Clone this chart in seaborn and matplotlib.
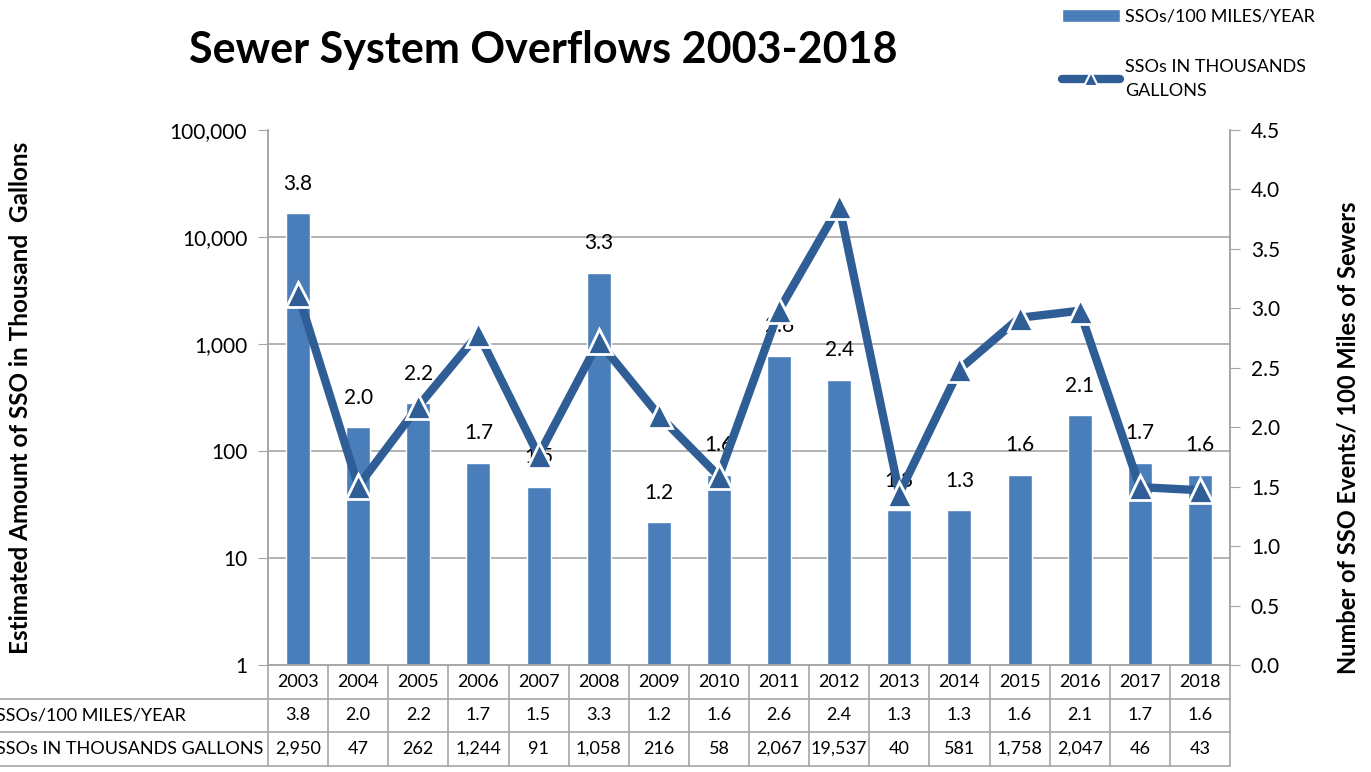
import numpy as np
import pandas as pd
import seaborn as sns
import matplotlib.pyplot as plt
from matplotlib.ticker import FuncFormatter
from matplotlib.lines import Line2D
from matplotlib.patches import Patch
from matplotlib.transforms import blended_transform_factory

# data
years = ['2003', '2004', '2005', '2006', '2007', '2008', '2009', '2010',
         '2011', '2012', '2013', '2014', '2015', '2016', '2017', '2018']
ssos_per_100mi = [3.8, 2.0, 2.2, 1.7, 1.5, 3.3, 1.2, 1.6, 2.6, 2.4, 1.3, 1.3, 1.6, 2.1, 1.7, 1.6]
ssos_gallons_k = [2950, 47, 262, 1244, 91, 1058, 216, 58, 2067, 19537, 40, 581, 1758, 2047, 46, 43]
bar_name = 'SSOs/100 MILES/YEAR'
line_name = 'SSOs IN THOUSANDS GALLONS'

df = pd.DataFrame({'year': years, 'rate': ssos_per_100mi, 'gallons': ssos_gallons_k})

bar_color = '#4a7ebb'
line_color = '#2f5e97'
grid_color = '#a6a6a6'

sns.set_style('white')
plt.rcParams['font.family'] = ['Lato', 'DejaVu Sans']
plt.rcParams['text.color'] = 'black'
plt.rcParams['axes.labelcolor'] = 'black'
plt.rcParams['ytick.labelcolor'] = 'black'

W, H = 1371, 772
fig = plt.figure(figsize=(W / 100, H / 100), dpi=100)
ax = fig.add_axes([268 / W, 1 - 665 / H, 962 / W, 535 / H])

# bars on the linear (right) axis
sns.barplot(data=df, x='year', y='rate', color=bar_color, width=0.4, saturation=1,
            edgecolor='white', linewidth=1, ax=ax, zorder=2)
ax.set_xlim(-0.5, len(years) - 0.5)
ax.set_ylim(0, 4.5)
ax.set_xticks([])
ax.set_xlabel('')
ax.bar_label(ax.containers[0], labels=[f'{v:.1f}' for v in ssos_per_100mi],
             padding=14, fontsize=15, color='black')

# line on the log (left) axis
ax2 = ax.twinx()
ax2.set_yscale('log')
sns.lineplot(x=df.index, y=df['gallons'], ax=ax2, color=line_color, lw=6,
             marker='^', markersize=18, markeredgecolor='white', markeredgewidth=2,
             zorder=3)
ax2.set_ylim(1, 1e5)
ax2.set_xlabel('')

# swap sides: linear scale on the right, log scale on the left
ax.yaxis.tick_right()
ax.yaxis.set_label_position('right')
ax.set_yticks(np.arange(0, 4.51, 0.5))
ax.yaxis.set_major_formatter(FuncFormatter(lambda v, p: f'{v:.1f}'))
ax.tick_params(axis='y', which='major', left=False, right=True, length=7,
               color=grid_color, labelcolor='black', labelsize=15, pad=8)
# gridlines at the decades of the log axis, kept behind the bars
ax.set_yticks(np.linspace(0, 4.5, 6), minor=True)
ax.tick_params(axis='y', which='minor', length=0)
ax.grid(which='minor', axis='y', color=grid_color, lw=1.2)
ax.set_axisbelow(True)
ax.set_ylabel('Number of SSO Events/ 100 Miles of Sewers', fontsize=17, fontweight='bold')
ax.yaxis.set_label_coords(1.111, 0.424)

ax2.yaxis.tick_left()
ax2.yaxis.set_label_position('left')
ax2.yaxis.set_major_formatter(FuncFormatter(lambda v, p: f'{v:,.0f}'))
ax2.yaxis.set_minor_locator(plt.NullLocator())
ax2.tick_params(axis='y', left=True, right=False, length=7, color=grid_color,
                labelcolor='black', labelsize=15, pad=8)
ax2.set_ylabel('Estimated Amount of SSO in Thousand  Gallons', fontsize=17.5,
               fontweight='bold')
ax2.yaxis.set_label_coords(-0.245, 0.5)

for a in (ax, ax2):
    a.spines['top'].set_visible(False)
    for s in ('left', 'right', 'bottom'):
        a.spines[s].set_color(grid_color)
        a.spines[s].set_linewidth(1.2)

# data table under the plot
tr = blended_transform_factory(ax.transData, fig.transFigure)
row_edges = [665, 699, 732, 766]
row_mid = [(row_edges[i] + row_edges[i + 1]) / 2 for i in range(3)]
rows = [years,
        [f'{v:.1f}' for v in ssos_per_100mi],
        [f'{v:,}' for v in ssos_gallons_k]]
for r, vals in enumerate(rows):
    for i, txt in enumerate(vals):
        fig.text(i, 1 - row_mid[r] / H, txt, transform=tr, ha='center', va='center',
                 fontsize=13)
for r, name in zip((1, 2), (bar_name, line_name)):
    fig.text(-4 / W, 1 - row_mid[r] / H, name, ha='left', va='center', fontsize=13)
for i in range(len(years) + 1):
    fig.add_artist(Line2D([i - 0.5, i - 0.5], [1 - 665 / H, 1 - 766 / H], transform=tr,
                          color=grid_color, lw=1.2))
for y in row_edges[1:]:
    fig.add_artist(Line2D([0, 1230 / W], [1 - y / H, 1 - y / H], color=grid_color, lw=1.2))

fig.text(543 / W, 1 - 50 / H, 'Sewer System Overflows 2003-2018', ha='center', va='center',
         fontsize=31, fontweight='bold')

handles = [Patch(facecolor=bar_color, edgecolor='white'),
           Line2D([], [], color=line_color, lw=6, marker='^', markersize=10,
                  markeredgecolor='white', markeredgewidth=1.5)]
leg = fig.legend(handles, [bar_name, 'SSOs IN THOUSANDS\nGALLONS'], loc='upper left',
                 bbox_to_anchor=(1046 / W, 1.01), frameon=False, fontsize=13,
                 handlelength=3.2, handletextpad=0.3, labelspacing=1.9)
for t in leg.get_texts():
    t.set_linespacing(1.6)

fig.savefig('out.png', dpi=100)
